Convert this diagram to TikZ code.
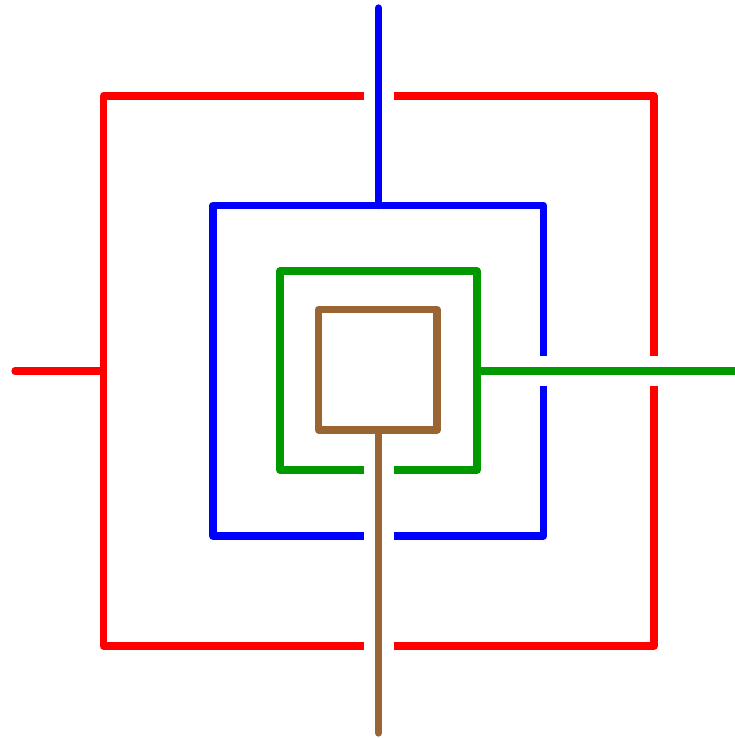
\documentclass[tikz,border=0pt]{standalone}
\usetikzlibrary{calc}
\definecolor{cred}{RGB}{255,0,0}
\definecolor{cblue}{RGB}{0,0,255}
\definecolor{cgreen}{RGB}{0,153,0}
\definecolor{cbrown}{RGB}{153,102,51}
\tikzset{
  loopline/.style={line width=7.3pt, line join=round, line cap=butt},
  tail/.style={line width=7.3pt, line cap=round}
}
\begin{document}
\begin{tikzpicture}[x=1pt,y=-1pt]
\useasboundingbox (0,0) rectangle (735,738);
\def\cx{378.5}
\def\cy{371}
\def\g{15}
% red square (halfsize 275), gaps at top, bottom, right
\draw[loopline,cred] (\cx-\g,96) -- (103.5,96) -- (103.5,646) -- (\cx-\g,646);
\draw[loopline,cred] (\cx+\g,646) -- (654,646) -- (654,\cy+\g);
\draw[loopline,cred] (654,\cy-\g) -- (654,96) -- (\cx+\g,96);
% blue square (halfsize 165), gaps at bottom, right
\draw[loopline,cblue] (543.5,\cy-\g) -- (543.5,205.5) -- (213,205.5) -- (213,536) -- (\cx-\g,536);
\draw[loopline,cblue] (\cx+\g,536) -- (543.5,536) -- (543.5,\cy+\g);
% green square, gap at bottom
\draw[loopline,cgreen] (\cx-\g,470) -- (280,470) -- (280,271) -- (477,271) -- (477,470) -- (\cx+\g,470);
% brown square
\draw[loopline,cbrown] (318.7,309.5) rectangle (437,430);
% tails
\coordinate (redL) at (103.5,\cy);
\coordinate (redE) at (15,\cy);
\draw[tail,cred] (redE) -- (redL);
\coordinate (blueT) at (\cx,205.5);
\coordinate (blueE) at (\cx,8);
\draw[tail,cblue] (blueE) -- (blueT);
\coordinate (greenR) at (477,\cy);
\coordinate (greenE) at (745,\cy);
\draw[loopline,cgreen] (greenR) -- (greenE);
\coordinate (brownB) at (\cx,430);
\coordinate (brownE) at (\cx,733);
\draw[tail,cbrown] (brownB) -- (brownE);
\end{tikzpicture}
\end{document}
